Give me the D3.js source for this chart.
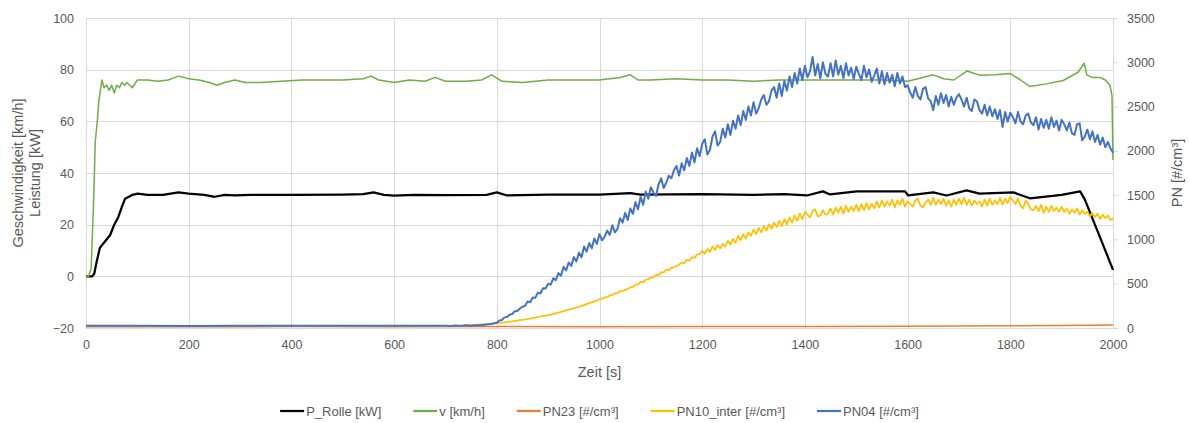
<!DOCTYPE html>
<html>
<head>
<meta charset="utf-8">
<script src="https://cdn.jsdelivr.net/npm/d3@7"></script>
<style>
  body { margin: 0; background: #fff; }
  svg { font-family: 'Liberation Sans', Arial, sans-serif; background: #fff; }
  .tick text { fill: #595959; font-size: 12.5px; }
  .grid line { stroke: #d9d9d9; stroke-width: 1; }
  .axis-title { fill: #595959; font-size: 14.5px; }
  .legend text { fill: #595959; font-size: 13px; }
  .series { fill: none; stroke-linejoin: round; }
</style>
</head>
<body>
<svg width="1189" height="423"></svg>
<script>
(function (d3) {
  'use strict';

  // --- data ---
  const xTicks = [0, 200, 400, 600, 800, 1000, 1200, 1400, 1600, 1800, 2000];
  const leftTicks = [-20, 0, 20, 40, 60, 80, 100];
  const rightTicks = [0, 500, 1000, 1500, 2000, 2500, 3000, 3500];

  const legendLabels = ['P_Rolle [kW]', 'v [km/h]', 'PN23 [#/cm³]', 'PN10_inter [#/cm³]', 'PN04 [#/cm³]'];
  const seriesColors = ['#000000', '#70ad47', '#ed7d31', '#ffc000', '#4472c4'];

  // P_Rolle [kW]
  const pRolleTime = [0, 12, 16, 20, 27, 35, 47, 55, 63, 70, 76, 90, 101, 120, 150, 180, 200, 230, 251, 270, 290, 320,
    400, 500, 540, 560, 580, 600, 640, 700, 780, 800, 820, 900, 1000, 1060, 1080, 1200, 1300, 1360, 1404, 1435, 1449,
    1501, 1595, 1601, 1650, 1676, 1715, 1740, 1806, 1838, 1900, 1936, 1945, 1975, 2000];
  const pRolle = [0, 0, 1, 5, 11, 13, 16, 20, 23, 27, 30, 31.5, 32, 31.5, 31.5, 32.5, 32, 31.5, 30.8, 31.5, 31.3, 31.5,
    31.5, 31.6, 31.8, 32.5, 31.5, 31.2, 31.5, 31.4, 31.5, 32.5, 31.3, 31.6, 31.6, 32.2, 31.6, 31.8, 31.5, 31.8, 31.3, 32.9, 31.7,
    32.9, 32.9, 31.3, 32.5, 31.3, 33.3, 32, 32.5, 30.2, 31.5, 32.9, 29.8, 15, 2.5];

  // v [km/h]
  const vTime = [0, 5, 10, 15, 18, 22, 25, 28, 31, 35, 40, 45, 50, 55, 60, 65, 70, 75, 80, 90, 100, 120, 140, 160, 180,
    200, 220, 240, 255, 270, 290, 310, 340, 380, 420, 460, 500, 540, 555, 570, 600, 630, 660, 680, 700, 740, 770, 790,
    810, 850, 900, 950, 1000, 1040, 1060, 1075, 1100, 1150, 1200, 1250, 1300, 1350, 1400, 1450, 1500, 1550, 1600, 1620,
    1650, 1670, 1690, 1716, 1741, 1770, 1800, 1820, 1838, 1870, 1903, 1932, 1944, 1949, 1960, 1975, 1985, 1994, 1998, 2000];
  const v = [0, 0, 3, 30, 52, 60, 68, 72, 76, 73, 74, 72, 74, 71, 74, 73, 75, 74, 75, 73, 76, 76, 75.5, 76, 77.5,
    76.5, 76, 75, 74, 75, 76, 75, 75, 75.5, 76, 76, 76, 76.5, 77.5, 76, 75, 76, 75.5, 77, 75.5, 75.5, 76, 78,
    75.5, 75, 76, 76, 76, 77, 78, 76, 76, 76.5, 76, 76, 75.5, 76, 76, 76, 76, 76, 75.5, 76.5,
    78, 76.5, 76, 79.5, 77.8, 78, 78.5, 76, 73.5, 74.5, 75.8, 79, 82.5, 78, 77, 77, 76, 74, 70, 45];

  // PN23 [#/cm³]
  const pn23Time = [0, 200, 400, 600, 800, 1000, 1200, 1400, 1600, 1800, 1900, 2000];
  const pn23 = [15, 14, 16, 15, 16, 15, 17, 18, 20, 24, 28, 34];

  // sample times of the particle counters: sparse baseline, 10 s, then 5 s
  const pnTime = [0, 100, 200, 300, 400, 500, 600, 700]
    .concat(d3.range(710, 800, 10))
    .concat(d3.range(800, 2001, 5));

  // PN10_inter [#/cm³]
  const pn10 = [20, 22, 21, 23, 22, 21, 22, 22,
    24, 25, 28, 30, 33, 36, 40, 44, 48,
    55, 58, 62, 64, 68, 72, 75, 80, 84, 88,
    92, 96, 102, 106, 112, 118, 124, 130, 136, 140,
    145, 152, 160, 166, 175, 182, 192, 200, 208, 215,
    222, 232, 240, 250, 258, 270, 280, 290, 300, 310,
    325, 330, 345, 350, 368, 372, 392, 395, 415, 418,
    430, 440, 460, 465, 490, 492, 520, 515, 545, 548,
    570, 575, 600, 598, 630, 625, 660, 655, 680, 685,
    700, 715, 740, 730, 770, 760, 800, 790, 830, 835,
    870, 840, 890, 860, 920, 880, 935, 900, 950, 920,
    985, 940, 1010, 960, 1040, 990, 1060, 1010, 1080, 1040,
    1110, 1060, 1130, 1080, 1150, 1100, 1170, 1120, 1190, 1140,
    1210, 1150, 1230, 1170, 1250, 1190, 1270, 1210, 1290, 1230,
    1310, 1280, 1250, 1320, 1340, 1260, 1270, 1330, 1280, 1290,
    1350, 1280, 1360, 1300, 1370, 1290, 1380, 1310, 1370, 1320,
    1390, 1320, 1400, 1330, 1410, 1340, 1400, 1350, 1430, 1360,
    1440, 1370, 1430, 1380, 1450, 1360, 1440, 1390, 1460, 1370,
    1430, 1400, 1370, 1440, 1460, 1380, 1360, 1420, 1450, 1390,
    1470, 1390, 1450, 1400, 1460, 1380, 1440, 1370, 1450, 1390,
    1460, 1400, 1470, 1390, 1450, 1380, 1440, 1400, 1430, 1370,
    1450, 1380, 1460, 1390, 1440, 1400, 1470, 1390, 1460, 1410,
    1480, 1440, 1400, 1460, 1380, 1350, 1440, 1400, 1340, 1330,
    1380, 1320, 1390, 1300, 1370, 1310, 1380, 1320, 1360, 1310,
    1370, 1310, 1350, 1290, 1340, 1300, 1350, 1280, 1330, 1290,
    1310, 1260, 1300, 1250, 1290, 1230, 1280, 1240, 1270, 1220,
    1240];

  // PN04 [#/cm³]
  const pn04 = [24, 26, 23, 25, 24, 26, 25, 25,
    22, 28, 24, 30, 26, 32, 30, 40, 48,
    60, 85, 90, 120, 125, 150, 158, 190, 192, 220,
    240, 250, 300, 290, 345, 340, 400, 390, 450, 445,
    500, 490, 560, 540, 620, 590, 690, 650, 740, 700,
    800, 750, 850, 800, 920, 860, 960, 900, 1010, 950,
    1060, 990, 1030, 1100, 1050, 1160, 1080, 1120, 1240, 1190,
    1300, 1220, 1350, 1290, 1420, 1340, 1480, 1390, 1540, 1460,
    1590, 1530, 1490, 1620, 1690, 1580, 1640, 1720, 1690, 1780,
    1830, 1720, 1860, 1780, 1920, 1830, 1980, 1870, 2030, 1940,
    2080, 2130, 1960, 2010, 2160, 2220, 2060, 2100, 2250, 2150,
    2300, 2180, 2340, 2250, 2400, 2290, 2450, 2350, 2500, 2400,
    2550, 2420, 2480, 2580, 2630, 2520, 2560, 2680, 2720, 2600,
    2760, 2620, 2790, 2680, 2840, 2720, 2880, 2760, 2930, 2800,
    2960, 2830, 2900, 3060, 2850, 2980, 2820, 3000, 2870, 2840,
    2990, 2840, 3020, 2860, 2960, 2820, 2990, 2850, 2940, 2810,
    2950, 2870, 2800, 2960, 2830, 2920, 2780, 2850, 2930, 2760,
    2900, 2750, 2880, 2770, 2860, 2730, 2880, 2760, 2840, 2720,
    2740, 2660, 2600, 2720, 2620, 2580, 2700, 2720, 2590, 2560,
    2460, 2620, 2520, 2650, 2540, 2630, 2500, 2610, 2520, 2600,
    2640, 2580, 2500, 2600, 2480, 2450, 2580, 2560, 2460, 2420,
    2520, 2400, 2500, 2390, 2470, 2360, 2460, 2270, 2440, 2330,
    2430, 2380, 2310, 2440, 2330, 2300, 2400, 2420, 2320, 2290,
    2380, 2240, 2360, 2260, 2350, 2250, 2380, 2270, 2340, 2230,
    2350, 2300, 2230, 2320, 2200, 2180, 2300, 2310, 2120, 2160,
    2240, 2130, 2220, 2100, 2180, 2070, 2150, 2040, 2100, 2030,
    1980];

  // --- layout ---
  const svg = d3.select('svg');
  const left = 86, right = 1113, top = 18, bottom = 328;

  const xScale = d3.scaleLinear().domain([0, 2000]).range([left, right]);
  const yLeft = d3.scaleLinear().domain([-20, 100]).range([bottom, top]);
  const yRight = d3.scaleLinear().domain([0, 3500]).range([bottom, top]);

  // gridlines
  const grid = svg.append('g').attr('class', 'grid');
  grid.selectAll('line.h').data(leftTicks)
    .enter().append('line')
    .attr('x1', left).attr('x2', right)
    .attr('y1', d => Math.round(yLeft(d)) + 0.5)
    .attr('y2', d => Math.round(yLeft(d)) + 0.5);
  grid.selectAll('line.v').data(xTicks)
    .enter().append('line')
    .attr('y1', top).attr('y2', bottom)
    .attr('x1', d => Math.round(xScale(d)) + 0.5)
    .attr('x2', d => Math.round(xScale(d)) + 0.5);

  // axes
  const plain = d3.format('d');
  const xAxisG = svg.append('g')
    .attr('transform', `translate(0,${bottom + 8})`)
    .call(d3.axisBottom(xScale).tickValues(xTicks).tickFormat(plain).tickSize(0).tickPadding(4));
  const leftAxisG = svg.append('g')
    .attr('transform', `translate(${left - 12},0)`)
    .call(d3.axisLeft(yLeft).tickValues(leftTicks).tickFormat(plain).tickSize(0).tickPadding(0));
  const rightAxisG = svg.append('g')
    .attr('transform', `translate(${right},0)`)
    .call(d3.axisRight(yRight).tickValues(rightTicks).tickFormat(plain).tickSize(5).tickPadding(9));

  [xAxisG, leftAxisG, rightAxisG].forEach(g => g.select('.domain').remove());
  rightAxisG.selectAll('.tick line').attr('stroke', '#d9d9d9');

  // axis titles
  svg.append('text')
    .attr('class', 'axis-title')
    .attr('text-anchor', 'middle')
    .attr('x', (left + right) / 2)
    .attr('y', 377)
    .text('Zeit [s]');

  svg.append('text')
    .attr('class', 'axis-title')
    .attr('text-anchor', 'middle')
    .attr('transform', `translate(23,${(top + bottom) / 2}) rotate(-90)`)
    .text('Geschwindigkeit [km/h]');
  svg.append('text')
    .attr('class', 'axis-title')
    .attr('text-anchor', 'middle')
    .attr('transform', `translate(40,${(top + bottom) / 2}) rotate(-90)`)
    .text('Leistung [kW]');

  svg.append('text')
    .attr('class', 'axis-title')
    .attr('text-anchor', 'middle')
    .attr('transform', `translate(1182,${(top + bottom) / 2}) rotate(-90)`)
    .text('PN [#/cm³]');

  // series
  const series = [
    { time: pRolleTime, values: pRolle, y: yLeft, width: 2.25 },
    { time: vTime, values: v, y: yLeft, width: 1.5 },
    { time: pn23Time, values: pn23, y: yRight, width: 1.5 },
    { time: pnTime, values: pn10, y: yRight, width: 1.75 },
    { time: pnTime, values: pn04, y: yRight, width: 2 }
  ];

  const plotG = svg.append('g');
  series.forEach((s, i) => {
    const line = d3.line()
      .x((d, j) => xScale(s.time[j]))
      .y(d => s.y(d));
    plotG.append('path')
      .attr('class', 'series')
      .attr('d', line(s.values))
      .attr('stroke', seriesColors[i])
      .attr('stroke-width', s.width);
  });

  // legend
  const legendG = svg.append('g').attr('class', 'legend');
  const items = legendG.selectAll('g').data(legendLabels)
    .enter().append('g');
  items.append('line')
    .attr('x1', 0).attr('x2', 24)
    .attr('y1', 0).attr('y2', 0)
    .attr('stroke', (d, i) => seriesColors[i])
    .attr('stroke-width', 2.25);
  items.append('text')
    .attr('x', 26)
    .attr('dy', '0.35em')
    .text(d => d);

  const gap = 32;
  let offset = 0;
  const positions = [];
  items.each(function () {
    positions.push(offset);
    offset += 26 + this.querySelector('text').getComputedTextLength() + gap;
  });
  const total = offset - gap;
  const startX = (left + right) / 2 - total / 2;
  items.attr('transform', (d, i) => `translate(${startX + positions[i]},411)`);

}(d3));
</script>
</body>
</html>
